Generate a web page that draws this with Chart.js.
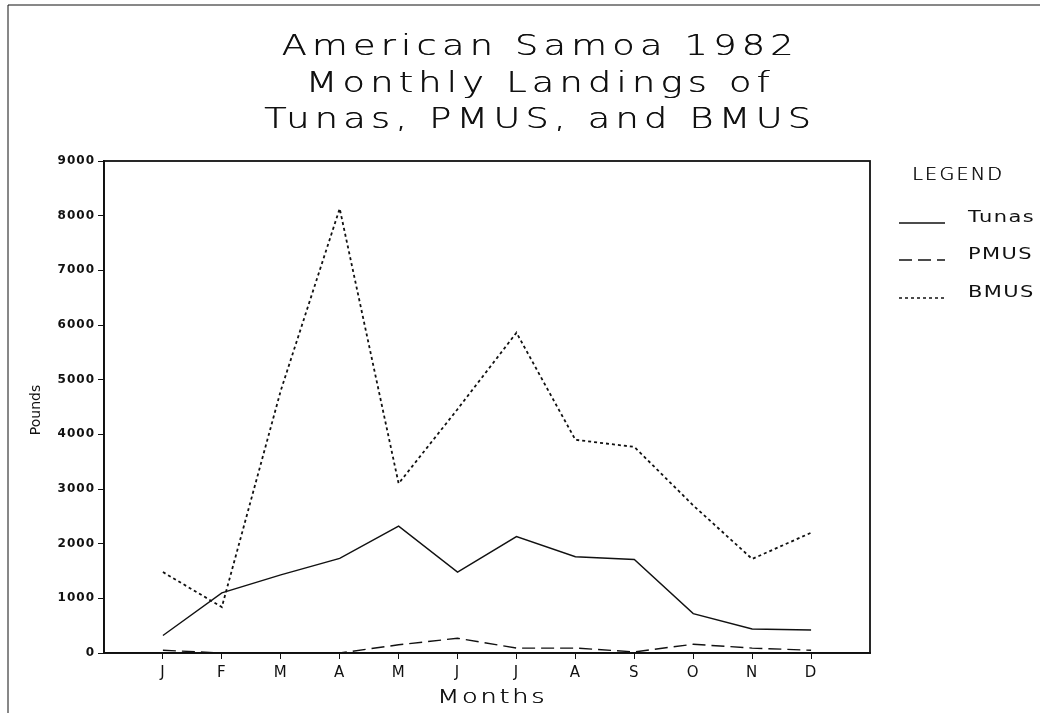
<!DOCTYPE html>
<html>
<head>
<meta charset="utf-8">
<script src="https://cdn.jsdelivr.net/npm/chart.js@4"></script>
<style>
  html, body { margin: 0; padding: 0; background: #fff; }
  #wrap { width: 1046px; height: 713px; position: relative; }
</style>
</head>
<body>
<div id="wrap"><canvas id="chart"></canvas></div>
<script>
// --- data ---
const months = ['J', 'F', 'M', 'A', 'M', 'J', 'J', 'A', 'S', 'O', 'N', 'D'];
const tunas = [320, 1100, 1430, 1730, 2320, 1480, 2130, 1760, 1710, 720, 440, 420];
const pmus = [50, 0, 0, 0, 150, 270, 90, 90, 20, 160, 90, 50];
const bmus = [1480, 840, 4800, 8130, 3100, 4460, 5860, 3900, 3770, 2700, 1720, 2200];
const titleLines = ['American Samoa 1982', 'Monthly Landings of', 'Tunas, PMUS, and BMUS'];
const seriesNames = ['Tunas', 'PMUS', 'BMUS'];

const INK = '#111';
const dashes = [[], [13, 6], [3, 3]];

function toPoints(vals) {
    return vals.map((v, i) => ({ x: i, y: v }));
}

// the plotter font is very wide, so text gets stretched sideways
function setFont(ctx, size, weight, spacing) {
    ctx.font = (weight || 'normal') + ' ' + size + 'px "DejaVu Sans"';
    ctx.letterSpacing = (spacing || 0) + 'px';
}
function drawStretched(ctx, text, x, y, sx, align) {
    const w = (ctx.measureText(text).width) * sx;
    ctx.save();
    ctx.translate(align === 'center' ? x - w / 2 : x, y);
    ctx.scale(sx, 1);
    ctx.textAlign = 'left';
    ctx.textBaseline = 'middle';
    ctx.fillText(text, 0, 0);
    ctx.restore();
}
function fitScale(ctx, text, width) {
    return width / ctx.measureText(text).width;
}

const decor = {
    id: 'decor',
    beforeDraw(chart) {
        chart.ctx.letterSpacing = '1px';
    },
    afterDraw(chart) {
        const ctx = chart.ctx;
        const area = chart.chartArea;
        ctx.save();
        ctx.strokeStyle = INK;
        ctx.lineWidth = 1.8;
        ctx.strokeRect(area.left, area.top, area.right - area.left, area.bottom - area.top);
        // outer page frame
        ctx.lineWidth = 1;
        ctx.beginPath();
        ctx.moveTo(8, 713);
        ctx.lineTo(8, 5);
        ctx.lineTo(1040, 5);
        ctx.stroke();

        ctx.fillStyle = INK;
        // title: one common stretch, set by the longest line
        setFont(ctx, 28, '200', 4);
        const tsx = fitScale(ctx, titleLines[2], 552);
        const ys = [48, 85, 121];
        titleLines.forEach((t, i) => {
            // draw twice with a tiny shift so the thin strokes come out dark like the plotter pen
            drawStretched(ctx, t, 540, ys[i], tsx, 'center');
            drawStretched(ctx, t, 540.5, ys[i], tsx, 'center');
        });

        setFont(ctx, 19, '200', 2);
        drawStretched(ctx, 'Months', 492, 698, fitScale(ctx, 'Months', 110), 'center');
        drawStretched(ctx, 'Months', 492.5, 698, fitScale(ctx, 'Months', 110), 'center');

        ctx.save();
        ctx.translate(36, 410);
        ctx.rotate(-Math.PI / 2);
        setFont(ctx, 14, 'normal', 0);
        ctx.textAlign = 'center';
        ctx.textBaseline = 'middle';
        ctx.fillText('Pounds', 0, 0);
        ctx.restore();

        // legend
        setFont(ctx, 18, '200', 2);
        const gsx = fitScale(ctx, 'LEGEND', 92);
        drawStretched(ctx, 'LEGEND', 912, 175, gsx, 'left');
        drawStretched(ctx, 'LEGEND', 912.5, 175, gsx, 'left');
        const ly = [218, 255, 293];
        setFont(ctx, 15, 'normal', 1);
        const lsx = fitScale(ctx, 'Tunas', 67);
        seriesNames.forEach((n, i) => {
            ctx.setLineDash(dashes[i]);
            ctx.lineWidth = 1.5;
            ctx.beginPath();
            ctx.moveTo(899, ly[i] + 5);
            ctx.lineTo(945, ly[i] + 5);
            ctx.stroke();
            ctx.setLineDash([]);
            drawStretched(ctx, n, 968, ly[i], lsx, 'left');
        });
        ctx.restore();
    }
};

new Chart(document.getElementById('chart'), {
    type: 'line',
    data: {
        datasets: [
            { label: seriesNames[0], data: toPoints(tunas), borderColor: INK, borderWidth: 1.4, borderDash: dashes[0], pointRadius: 0, tension: 0 },
            { label: seriesNames[1], data: toPoints(pmus), borderColor: INK, borderWidth: 1.4, borderDash: dashes[1], pointRadius: 0, tension: 0 },
            { label: seriesNames[2], data: toPoints(bmus), borderColor: INK, borderWidth: 1.8, borderDash: dashes[2], pointRadius: 0, tension: 0 }
        ]
    },
    options: {
        responsive: true,
        maintainAspectRatio: false,
        animation: false,
        layout: { padding: { top: 161, right: 176, left: 0, bottom: 0 } },
        plugins: { legend: { display: false }, tooltip: { enabled: false }, title: { display: false } },
        scales: {
            x: {
                type: 'linear',
                min: -1,
                max: 12,
                afterFit(scale) { scale.height = 60; },
                afterBuildTicks(scale) { scale.ticks = months.map((m, i) => ({ value: i })); },
                grid: { display: true, drawOnChartArea: false, drawTicks: true, tickLength: 6, color: INK },
                border: { display: true, color: INK, width: 1.8 },
                ticks: {
                    color: INK,
                    padding: 5,
                    autoSkip: false,
                    maxRotation: 0,
                    font: { family: 'DejaVu Sans', size: 15 },
                    callback: (v) => months[v]
                }
            },
            y: {
                min: 0,
                max: 9000,
                afterFit(scale) { scale.width = 104; },
                grid: { display: true, drawOnChartArea: false, drawTicks: true, tickLength: 6, color: INK },
                border: { display: true, color: INK, width: 1.8 },
                ticks: {
                    stepSize: 1000,
                    color: INK,
                    padding: 3,
                    font: { family: 'DejaVu Sans', size: 12, weight: 'bold' },
                    callback: (v) => String(v)
                }
            }
        }
    },
    plugins: [decor]
});
</script>
</body>
</html>
